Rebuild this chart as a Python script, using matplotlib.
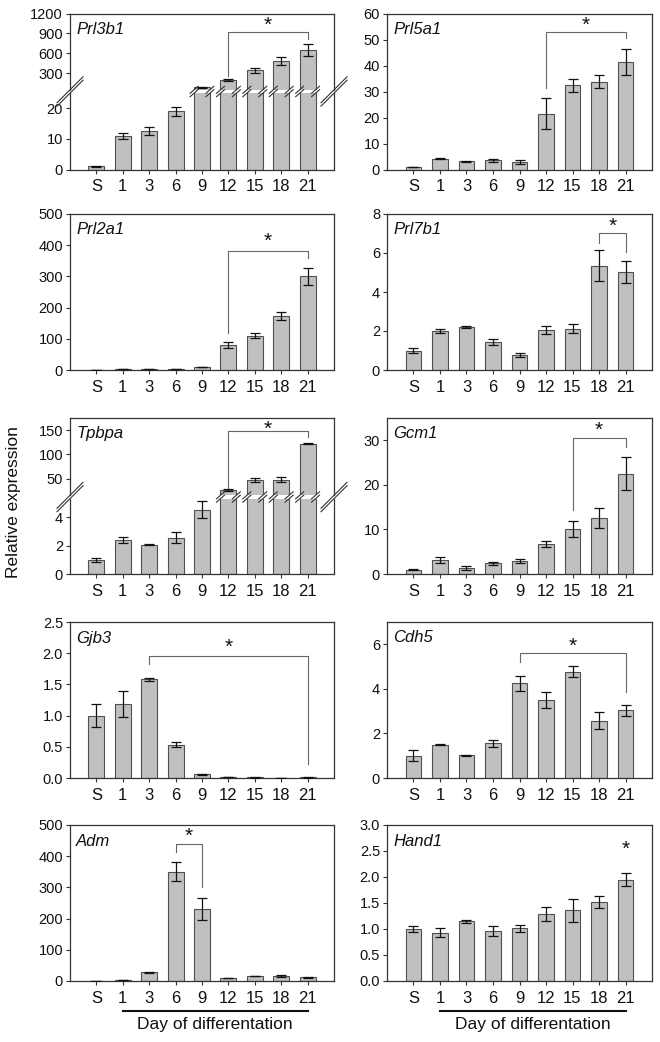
import numpy as np
import matplotlib.pyplot as plt
from matplotlib.lines import Line2D

plt.rcParams['font.family'] = ['Liberation Sans', 'DejaVu Sans']

W, H = 660, 1042

days = ['S', '1', '3', '6', '9', '12', '15', '18', '21']

# relative expression, mean and error bar
prl3b1 = [1.0, 11.0, 12.7, 19.0, 90, 200, 350, 490, 650]
prl3b1_err = [0.1, 1.0, 1.3, 1.5, 5, 20, 37, 60, 88]
prl5a1 = [1.0, 4.2, 3.1, 3.6, 3.0, 21.5, 32.5, 33.8, 41.5]
prl5a1_err = [0.1, 0.3, 0.3, 0.6, 0.8, 6.0, 2.5, 2.5, 5.0]
prl2a1 = [0.5, 3, 3, 2.5, 10, 80, 110, 173, 300]
prl2a1_err = [0.2, 1, 0.5, 0.5, 1, 10, 8, 14, 27]
prl7b1 = [1.0, 2.0, 2.22, 1.42, 0.78, 2.05, 2.12, 5.35, 5.02]
prl7b1_err = [0.15, 0.1, 0.05, 0.15, 0.1, 0.22, 0.22, 0.8, 0.58]
tpbpa = [1.0, 2.4, 2.05, 2.55, 4.5, 27, 46.5, 48, 122]
tpbpa_err = [0.15, 0.2, 0.03, 0.4, 0.6, 2, 4, 5, 1]
gcm1 = [1.0, 3.2, 1.3, 2.4, 2.9, 6.7, 10.0, 12.6, 22.5]
gcm1_err = [0.05, 0.7, 0.5, 0.4, 0.5, 0.7, 1.8, 2.3, 3.7]
gjb3 = [1.0, 1.19, 1.58, 0.53, 0.06, 0.015, 0.01, 0.005, 0.01]
gjb3_err = [0.18, 0.21, 0.03, 0.04, 0.005, 0.003, 0.003, 0.002, 0.003]
cdh5 = [1.0, 1.5, 1.02, 1.55, 4.25, 3.5, 4.77, 2.57, 3.03]
cdh5_err = [0.25, 0.02, 0.02, 0.15, 0.33, 0.36, 0.24, 0.38, 0.25]
adm = [1, 3, 28, 350, 230, 10, 16, 16, 12]
adm_err = [0.3, 1, 2, 30, 35, 1, 1, 3, 2]
hand1 = [1.0, 0.93, 1.15, 0.96, 1.01, 1.29, 1.36, 1.52, 1.95]
hand1_err = [0.05, 0.08, 0.03, 0.1, 0.06, 0.14, 0.22, 0.12, 0.13]

# significance brackets: left bar, right bar, top, left leg end, right leg end, star
prl3b1_sig = (5, 8, 920, 260, 810, 1080)
prl5a1_sig = (5, 8, 53, 31.5, 50.7, 57)
prl2a1_sig = (5, 8, 382, 120, 358, 425)
prl7b1_sig = (7, 8, 7.0, 6.5, 6.07, 7.55)
tpbpa_sig = (5, 8, 148.6, 31, 135, 160)
gcm1_sig = (6, 8, 30.6, 14.3, 28.6, 33.2)
gjb3_sig = (2, 8, 1.95, 1.83, 0.22, 2.16)
cdh5_sig = (4, 8, 5.63, 5.2, 3.88, 6.1)
adm_sig = (3, 4, 438, 412, 301, 475)
hand1_star = (8, 2.6)

col_x = [70, 387]
col_w = [264, 265]
row_top = [13.5, 214, 418, 622, 825]
row_h = 156

fig = plt.figure(figsize=(W / 100, H / 100), dpi=100)


def rect(x, y, w, h):
    return [x / W, 1 - (y + h) / H, w / W, h / H]


def fig_line(xs, ys, **kw):
    fig.add_artist(Line2D([v / W for v in xs], [1 - v / H for v in ys],
                          transform=fig.transFigure, **kw))


def style(ax, ylim, yticks, fmt):
    ax.set_xlim(-1, 9)
    ax.set_ylim(*ylim)
    ax.set_yticks(yticks)
    ax.set_yticklabels([fmt % t for t in yticks])
    ax.set_xticks(np.arange(len(days)))
    ax.set_xticklabels(days)
    ax.tick_params(axis='y', direction='out', length=3, width=0.8, pad=2,
                   labelsize=10.5, color='#333333', labelcolor='#111111')
    ax.tick_params(axis='x', direction='out', length=3, width=0.8, pad=4,
                   labelsize=12, color='#333333', labelcolor='#111111')
    for s in ax.spines.values():
        s.set_color('#333333')
        s.set_linewidth(0.9)


def draw_bars(ax, vals, errs):
    x = np.arange(len(days))
    ax.bar(x, vals, width=0.6, color='#c0c0c0', edgecolor='#505050',
           linewidth=0.8, zorder=2)
    ax.errorbar(x, vals, yerr=errs, fmt='none', ecolor='#111111',
                elinewidth=0.9, capsize=3.5, capthick=0.9, zorder=3)


def star(ax, x, y):
    # the asterisk glyph sits high in its box, so pull it down a little
    ax.annotate('*', xy=(x, y), xytext=(0, -4), textcoords='offset pixels',
                ha='center', va='center', fontsize=15, color='#111111',
                annotation_clip=False)


def bracket(ax, b):
    i, j, top, l1, l2, ys = b
    ax.plot([i, i, j, j], [l1, top, top, l2], color='#666666', lw=0.8,
            zorder=4, clip_on=False)
    star(ax, (i + j) / 2, ys)


def gene_label(ax, name):
    ax.annotate(name, xy=(0, 1), xycoords='axes fraction', xytext=(6, -16),
                textcoords='offset pixels', ha='left', va='center',
                fontsize=12, style='italic', color='#111111')


def simple_panel(col, row, name, vals, errs, ylim, yticks, fmt, sig=None):
    ax = fig.add_axes(rect(col_x[col], row_top[row], col_w[col], row_h))
    draw_bars(ax, vals, errs)
    style(ax, ylim, yticks, fmt)
    gene_label(ax, name)
    if sig is not None:
        bracket(ax, sig)
    return ax


def broken_panel(col, row, name, vals, errs, up_lim, up_ticks, lo_lim,
                 lo_ticks, split, sig):
    top = row_top[row]
    g0, g1 = top + split, top + split + 3
    ax_up = fig.add_axes(rect(col_x[col], top, col_w[col], g0 - top))
    ax_lo = fig.add_axes(rect(col_x[col], g1, col_w[col], top + row_h - g1))
    for ax, lim, tk in [(ax_up, up_lim, up_ticks), (ax_lo, lo_lim, lo_ticks)]:
        draw_bars(ax, vals, errs)
        style(ax, lim, tk, '%g')
    ax_up.spines['bottom'].set_visible(False)
    ax_up.tick_params(axis='x', bottom=False, labelbottom=False)
    ax_lo.spines['top'].set_visible(False)
    gene_label(ax_up, name)
    bracket(ax_up, sig)
    gc = (g0 + g1) / 2
    kw = dict(color='#333333', lw=0.8)
    # break marks on both spines
    for xs in [col_x[col], col_x[col] + col_w[col]]:
        for d in (-1.7, 1.7):
            fig_line([xs - 13, xs + 13], [gc + 13 + d, gc - 13 + d], **kw)
    # break marks on the bars that cross the gap
    for i, v in enumerate(vals):
        if v > lo_lim[1]:
            for e in (i - 0.3, i + 0.3):
                xe = ax_lo.transData.transform((e, 0))[0]
                for d in (-1.7, 1.7):
                    fig_line([xe - 4, xe + 4], [gc + 3.5 + d, gc - 3.5 + d], **kw)
    return ax_lo


broken_panel(0, 0, 'Prl3b1', prl3b1, prl3b1_err, (50, 1200),
             [300, 600, 900, 1200], (0, 25), [0, 10, 20], 76.5, prl3b1_sig)
simple_panel(1, 0, 'Prl5a1', prl5a1, prl5a1_err, (0, 60),
             [0, 10, 20, 30, 40, 50, 60], '%g', prl5a1_sig)
simple_panel(0, 1, 'Prl2a1', prl2a1, prl2a1_err, (0, 500),
             [0, 100, 200, 300, 400, 500], '%g', prl2a1_sig)
simple_panel(1, 1, 'Prl7b1', prl7b1, prl7b1_err, (0, 8),
             [0, 2, 4, 6, 8], '%g', prl7b1_sig)
broken_panel(0, 2, 'Tpbpa', tpbpa, tpbpa_err, (15, 175), [50, 100, 150],
             (0, 5.3), [0, 2, 4], 77.5, tpbpa_sig)
simple_panel(1, 2, 'Gcm1', gcm1, gcm1_err, (0, 35), [0, 10, 20, 30], '%g',
             gcm1_sig)
simple_panel(0, 3, 'Gjb3', gjb3, gjb3_err, (0, 2.5),
             [0, 0.5, 1.0, 1.5, 2.0, 2.5], '%.1f', gjb3_sig)
simple_panel(1, 3, 'Cdh5', cdh5, cdh5_err, (0, 7), [0, 2, 4, 6], '%g',
             cdh5_sig)
ax_adm = simple_panel(0, 4, 'Adm', adm, adm_err, (0, 500),
                      [0, 100, 200, 300, 400, 500], '%g', adm_sig)
ax_hand = simple_panel(1, 4, 'Hand1', hand1, hand1_err, (0, 3.0),
                       [0, 0.5, 1.0, 1.5, 2.0, 2.5, 3.0], '%.1f')
star(ax_hand, hand1_star[0], hand1_star[1])

# "Day of differentation" underline and caption
for ax in (ax_adm, ax_hand):
    x1 = ax.transData.transform((1, 0))[0]
    x2 = ax.transData.transform((8, 0))[0]
    fig_line([x1, x2], [1010.5, 1010.5], color='#111111', lw=1.5)
    fig.text((x1 + x2) / 2 / W, 1 - 1024 / H, 'Day of differentation',
             ha='center', va='center', fontsize=12.5, color='#111111')

fig.text(14 / W, 1 - 502 / H, 'Relative expression', rotation=90,
         ha='center', va='center', fontsize=12.5, color='#111111')

fig.savefig('out.png', dpi=100)
